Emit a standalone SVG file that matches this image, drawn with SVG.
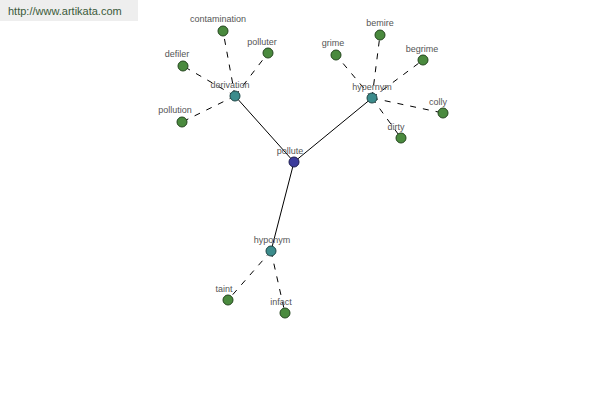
<svg xmlns="http://www.w3.org/2000/svg" width="600" height="400" viewBox="0 0 600 400">
<style>
.lbl{font-family:"Liberation Sans",Arial,sans-serif;font-size:9px;fill:#555;text-anchor:middle}
.solid{stroke:#000;stroke-width:1;fill:none}
.dash{stroke:#000;stroke-width:1;fill:none;stroke-dasharray:6,7}
.root{fill:#3c3c9c;stroke:#1e1e50;stroke-width:1}
.mid{fill:#3c8c8c;stroke:#1e4646;stroke-width:1}
.leaf{fill:#4a8a3e;stroke:#24461e;stroke-width:1}
</style>
<rect x="0" y="0" width="138" height="21" fill="#eeeeee"/>
<text x="8" y="15" font-family="'Liberation Sans',Arial,sans-serif" font-size="11" fill="#3a5a3a">http://www.artikata.com</text>
<g id="connectors">
<line class="solid" x1="294" y1="162" x2="235" y2="96"/>
<line class="solid" x1="294" y1="162" x2="372" y2="98"/>
<line class="solid" x1="294" y1="162" x2="271" y2="251"/>
<line class="dash" x1="235" y1="96" x2="223" y2="31"/>
<line class="dash" x1="235" y1="96" x2="268" y2="53"/>
<line class="dash" x1="235" y1="96" x2="183" y2="66"/>
<line class="dash" x1="235" y1="96" x2="182" y2="122"/>
<line class="dash" x1="372" y1="98" x2="336" y2="55"/>
<line class="dash" x1="372" y1="98" x2="380" y2="35"/>
<line class="dash" x1="372" y1="98" x2="423" y2="60"/>
<line class="dash" x1="372" y1="98" x2="443" y2="113"/>
<line class="dash" x1="372" y1="98" x2="401" y2="138"/>
<line class="dash" x1="271" y1="251" x2="228" y2="300"/>
<line class="dash" x1="271" y1="251" x2="285" y2="313"/>
</g>
<g id="pollute"><circle class="root" cx="294" cy="162" r="5"/><text class="lbl" x="290" y="154">pollute</text></g>
<g id="derivation"><circle class="mid" cx="235" cy="96" r="5"/><text class="lbl" x="230" y="88">derivation</text></g>
<g id="hypernym"><circle class="mid" cx="372" cy="98" r="5"/><text class="lbl" x="372" y="90">hypernym</text></g>
<g id="hyponym"><circle class="mid" cx="271" cy="251" r="5"/><text class="lbl" x="272" y="243">hyponym</text></g>
<g id="contamination"><circle class="leaf" cx="223" cy="31" r="5"/><text class="lbl" x="218" y="22">contamination</text></g>
<g id="polluter"><circle class="leaf" cx="268" cy="53" r="5"/><text class="lbl" x="262" y="45">polluter</text></g>
<g id="defiler"><circle class="leaf" cx="183" cy="66" r="5"/><text class="lbl" x="177" y="57">defiler</text></g>
<g id="pollution"><circle class="leaf" cx="182" cy="122" r="5"/><text class="lbl" x="175" y="113">pollution</text></g>
<g id="grime"><circle class="leaf" cx="336" cy="55" r="5"/><text class="lbl" x="333" y="46">grime</text></g>
<g id="bemire"><circle class="leaf" cx="380" cy="35" r="5"/><text class="lbl" x="380" y="26">bemire</text></g>
<g id="begrime"><circle class="leaf" cx="423" cy="60" r="5"/><text class="lbl" x="422" y="52">begrime</text></g>
<g id="colly"><circle class="leaf" cx="443" cy="113" r="5"/><text class="lbl" x="438" y="105">colly</text></g>
<g id="dirty"><circle class="leaf" cx="401" cy="138" r="5"/><text class="lbl" x="396" y="130">dirty</text></g>
<g id="taint"><circle class="leaf" cx="228" cy="300" r="5"/><text class="lbl" x="224" y="292">taint</text></g>
<g id="infact"><circle class="leaf" cx="285" cy="313" r="5"/><text class="lbl" x="281" y="305">infact</text></g>
</svg>
